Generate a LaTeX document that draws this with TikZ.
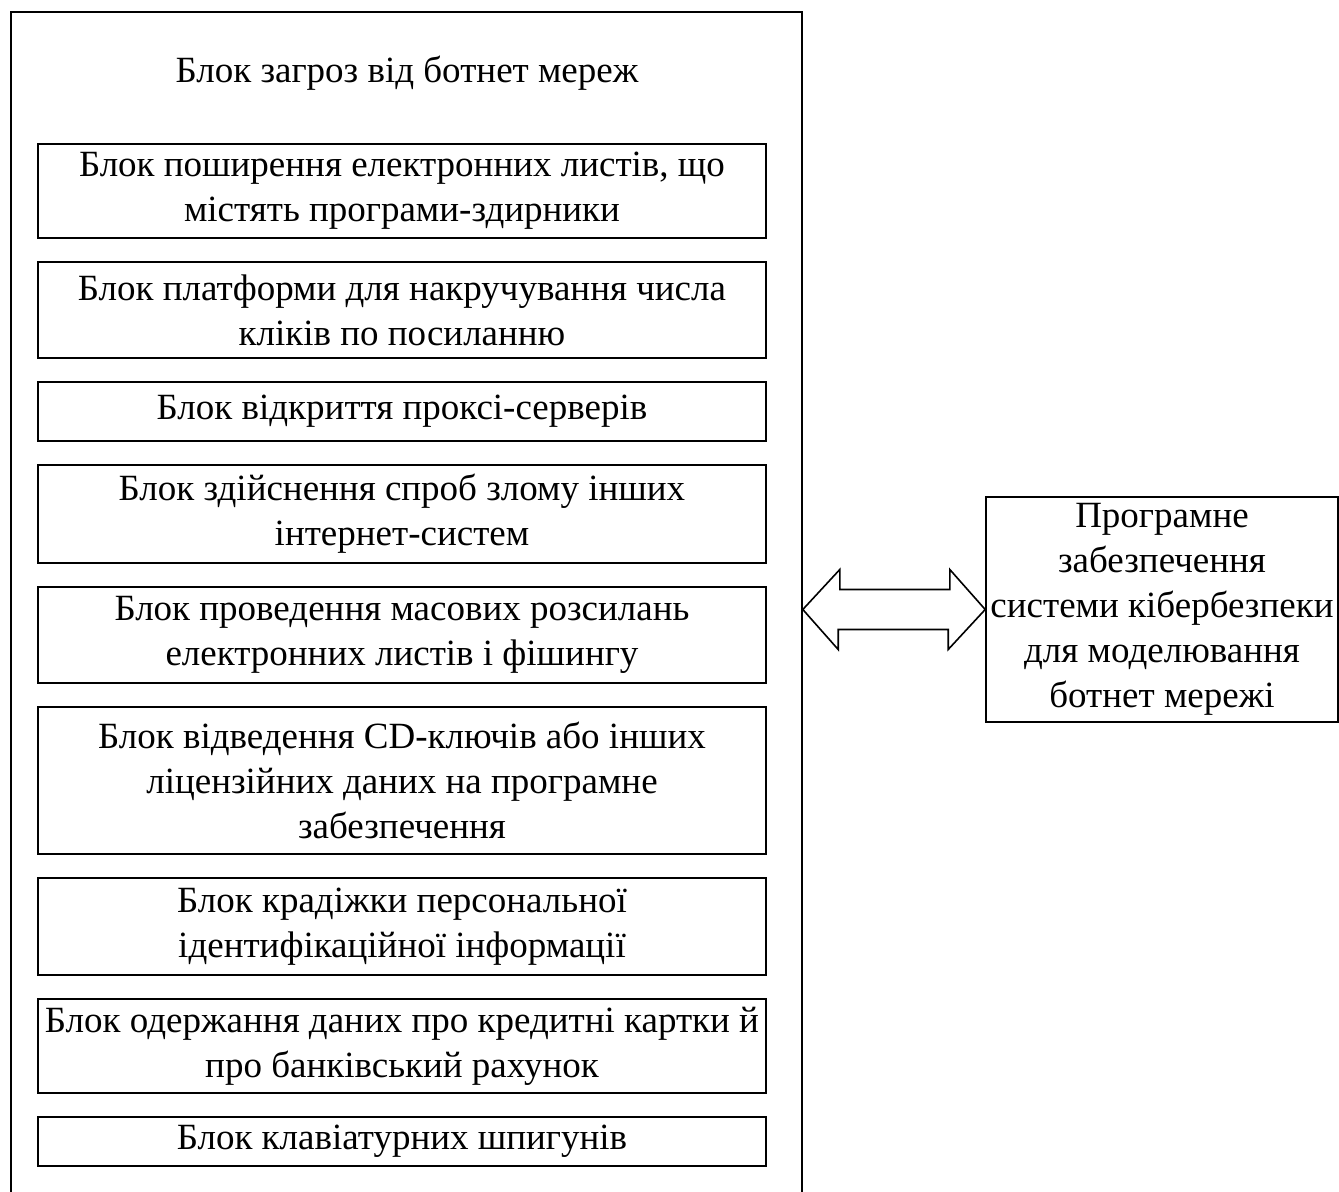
\documentclass[tikz,border=0pt]{standalone}
\usepackage{fontspec}
\setmainfont{Liberation Serif}
\usetikzlibrary{positioning}
\begin{document}
\begin{tikzpicture}[x=0.5pt, y=-0.5pt, node distance=11.2pt, line width=0.8pt,
    font=\fontsize{18.5}{22.5}\selectfont,
    blk/.style = {draw, align=center, minimum width=364pt, inner sep=1pt}]
    \useasboundingbox (0,0) rectangle (1339,1192);
    \node[draw, minimum width=395.5pt, minimum height=609pt, inner sep=0pt] (frame) at (406.5,621) {};
    \node (title) at (407,73) {Блок загроз від ботнет мереж};
    \node[blk, minimum height=47pt] (b1) at (402,191) {Блок поширення електронних листів, що\\ містять програми-здирники};
    \node[blk, minimum height=48pt] (b2) [below=of b1] {Блок платформи для накручування числа\\ кліків по посиланню};
    \node[blk, minimum height=29.5pt] (b3) [below=of b2] {Блок відкриття проксі-серверів};
    \node[blk, minimum height=49pt] (b4) [below=of b3] {Блок здійснення спроб злому інших\\ інтернет-систем};
    \node[blk, minimum height=48pt] (b5) [below=of b4] {Блок проведення масових розсилань\\ електронних листів і фішингу};
    \node[blk, minimum height=73.5pt] (b6) [below=of b5] {Блок відведення CD-ключів або інших\\ ліцензійних даних на програмне\\ забезпечення};
    \node[blk, minimum height=48.5pt] (b7) [below=of b6] {Блок крадіжки персональної\\ ідентифікаційної інформації};
    \node[blk, minimum height=47pt] (b8) [below=of b7] {Блок одержання даних про кредитні картки й\\ про банківський рахунок};
    \node[blk, minimum height=24.5pt] (b9) [below=of b8] {Блок клавіатурних шпигунів};
    \node[draw, align=center, minimum width=176pt, minimum height=112.5pt, inner sep=0pt] (soft) at (1162,609.5)
        {Програмне\\ забезпечення\\ системи кібербезпеки\\ для моделювання\\ ботнет мережі};
    % double arrow between the blocks
    \coordinate (al) at (frame.east |- soft.west);
    \draw (al) -- ++(37,-40) -- ++(0,20) -- ++(110,0) -- ++(0,-20) -- (soft.west)
        -- ++(-37,40) -- ++(0,-20) -- ++(-110,0) -- ++(0,20) -- cycle;
\end{tikzpicture}
\end{document}
